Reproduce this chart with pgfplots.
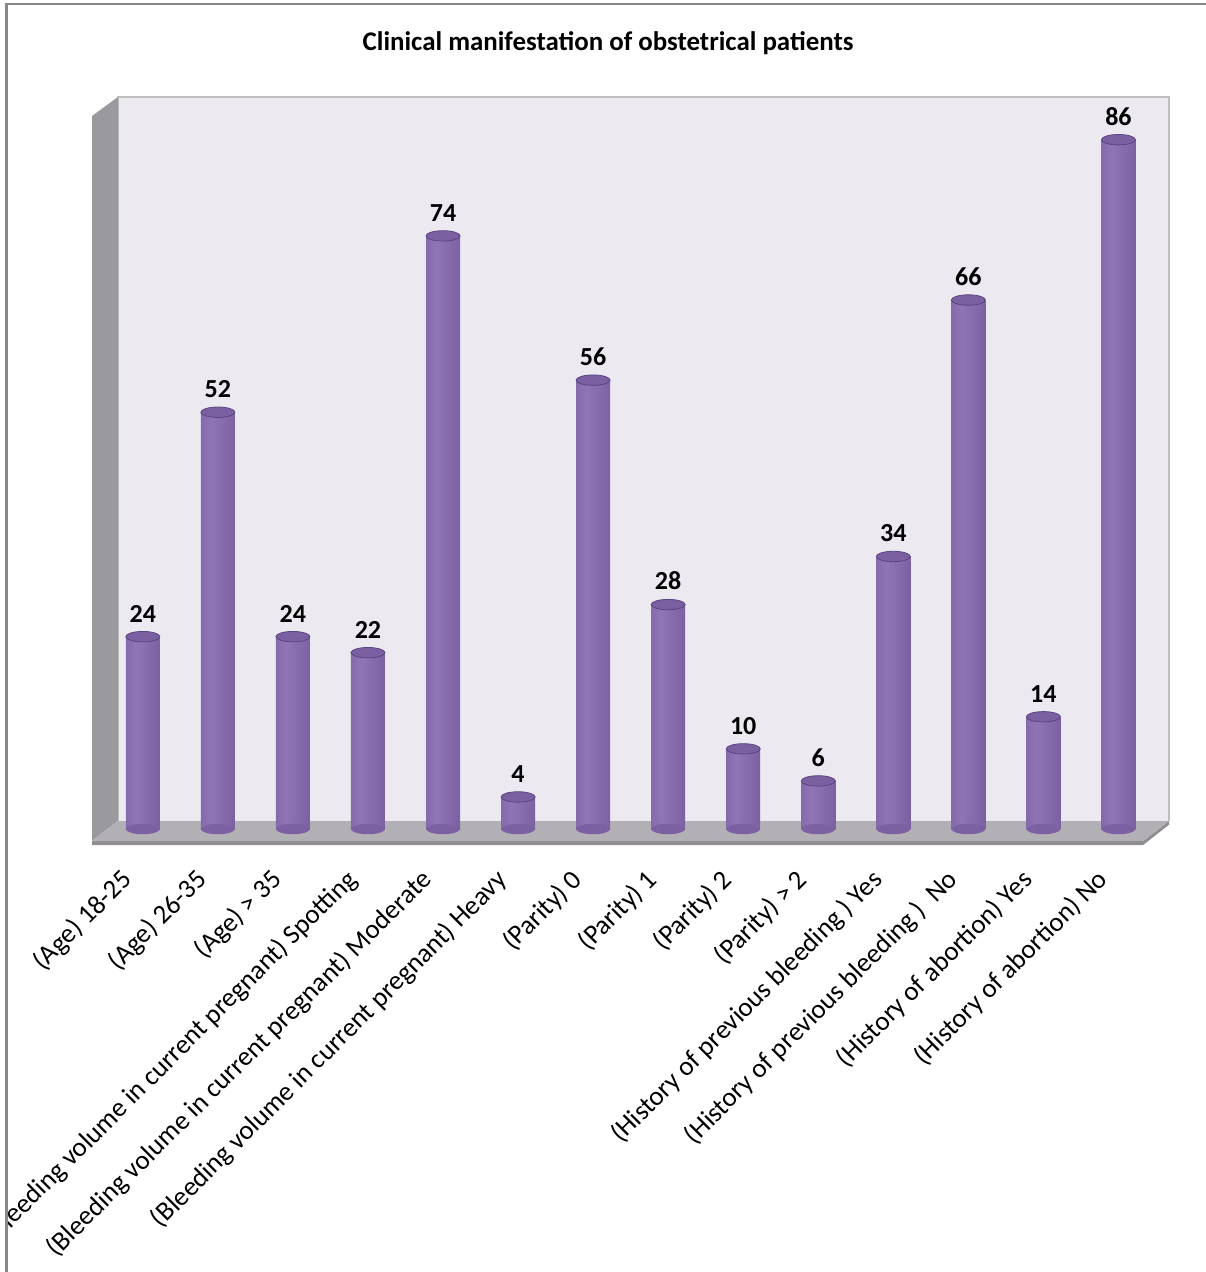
\documentclass[border=0pt]{standalone}
\usepackage{pgfplots}
\usepackage{pgfplotstable}
\pgfplotsset{compat=1.18}
\usepackage{fontspec}
\setmainfont{Carlito}
\definecolor{wallback}{HTML}{ECE9F1}
\definecolor{wallside}{HTML}{9A999E}
\definecolor{floorc}{HTML}{B3B0B5}
\definecolor{flooredge}{HTML}{8F8D92}
\definecolor{cA}{HTML}{654D8A}
\definecolor{cB}{HTML}{7A5FA0}
\definecolor{cC}{HTML}{9075B6}
\definecolor{cD}{HTML}{7C61A2}
\definecolor{cE}{HTML}{5E4883}
\definecolor{bartop}{HTML}{7B60A1}
\definecolor{bartopd}{HTML}{5A4580}
\pgfdeclarehorizontalshading{cyl}{100bp}{color(0bp)=(cA); color(8bp)=(cB); color(40bp)=(cC); color(75bp)=(cD); color(100bp)=(cE)}
\pgfdeclareplotmark{cyltop}{%
  \pgfpathellipse{\pgfpointorigin}{\pgfqpoint{8.5pt}{0pt}}{\pgfqpoint{0pt}{2.6pt}}%
  \pgfusepathqfillstroke}
\pgfdeclareplotmark{cylbot}{%
  \pgfpathellipse{\pgfpointorigin}{\pgfqpoint{8.5pt}{0pt}}{\pgfqpoint{0pt}{2.6pt}}%
  \pgfusepathqfill}
\pgfplotstableread{
x v z
0 24 0
1 52 0
2 24 0
3 22 0
4 74 0
5 4 0
6 56 0
7 28 0
8 10 0
9 6 0
10 34 0
11 66 0
12 14 0
13 86 0
}\datatable
\begin{document}
\begin{tikzpicture}
\begin{axis}[
  scale only axis,
  width=538.5pt, height=372pt,
  xmin=-0.677, xmax=13.674,
  ymin=-1.497, ymax=91.33,
  clip=false,
  axis line style={draw=none},
  major tick length=0pt,
  ytick=\empty,
  xtick={0,...,13},
  xticklabels={
    (Age) 18-25,
    (Age) 26-35,
    (Age) > 35,
    (Bleeding volume in current pregnant) Spotting,
    (Bleeding volume in current pregnant) Moderate,
    (Bleeding volume in current pregnant) Heavy,
    (Parity) 0,
    (Parity) 1,
    (Parity) 2,
    (Parity) > 2,
    (History of previous bleeding ) Yes,
    (History of previous bleeding )\ \ No,
    (History of abortion) Yes,
    (History of abortion) No},
  xticklabel style={rotate=45, anchor=east, inner sep=0pt,
    font=\fontsize{13.5}{16}\selectfont, xshift=-17.5pt, yshift=-7pt},
  /pgf/number format/assume math mode=true,
]
% frame and bounding box helpers
\coordinate (bbSW) at (axis cs:-1.903,-55.27);
\coordinate (bbNE) at (axis cs:14.153,103.43);
\coordinate (frTL) at (axis cs:-1.816,102.93);
\coordinate (frBL) at (axis cs:-1.816,-80);
\coordinate (frTR) at (axis cs:15,102.93);
% back wall
\fill[wallback] (axis cs:-0.3305,0.998) rectangle (axis cs:13.674,91.33);
\draw[black!25, line width=0.6pt] (axis cs:-0.3305,0.998) -- (axis cs:-0.3305,91.33) -- (axis cs:13.674,91.33) -- (axis cs:13.674,0.998);
% side wall
\fill[wallside] (axis cs:-0.677,88.96) -- (axis cs:-0.3305,91.33) -- (axis cs:-0.3305,0.998) -- (axis cs:-0.677,-1.497) -- cycle;
% floor
\fill[flooredge] (axis cs:-0.677,-1.497) -- (axis cs:13.328,-1.497) -- (axis cs:13.674,0.998) -- (axis cs:13.674,0.55) -- (axis cs:13.328,-2.0) -- (axis cs:-0.677,-2.0) -- cycle;
\fill[floorc] (axis cs:-0.3305,0.998) -- (axis cs:13.674,0.998) -- (axis cs:13.328,-1.497) -- (axis cs:-0.677,-1.497) -- cycle;
% title
\node[anchor=base, font=\fontsize{13.45}{16}\bfseries] at (axis cs:6.199,97.19) {Clinical manifestation of obstetrical patients};
% bars
\addplot[only marks, mark=cylbot, color=cD, fill=cD] table[x=x, y=z] {\datatable};
\pgfplotsinvokeforeach{0,...,13}{
  \addplot[ybar, bar width=17pt, draw=none, shading=cyl, restrict x to domain=#1:#1] table[x=x, y=v] {\datatable};
}
\addplot[only marks, mark=cyltop, mark options={draw=bartopd, fill=bartop, line width=0.4pt},
  nodes near coords,
  nodes near coords style={anchor=base, inner sep=0pt, yshift=7.3pt, text=black,
    font=\fontsize{13}{15}\bfseries}] table[x=x, y=v] {\datatable};
\end{axis}
% chart-area frame, clipping the label that runs past it
\fill[white] ([xshift=-20pt]bbSW) rectangle (frTL);
\draw[color=black!47, line width=1.2pt] (frBL) -- (frTL) -- (frTR);
\pgfresetboundingbox
\path[use as bounding box] (bbSW) rectangle (bbNE);
\end{tikzpicture}
\end{document}
